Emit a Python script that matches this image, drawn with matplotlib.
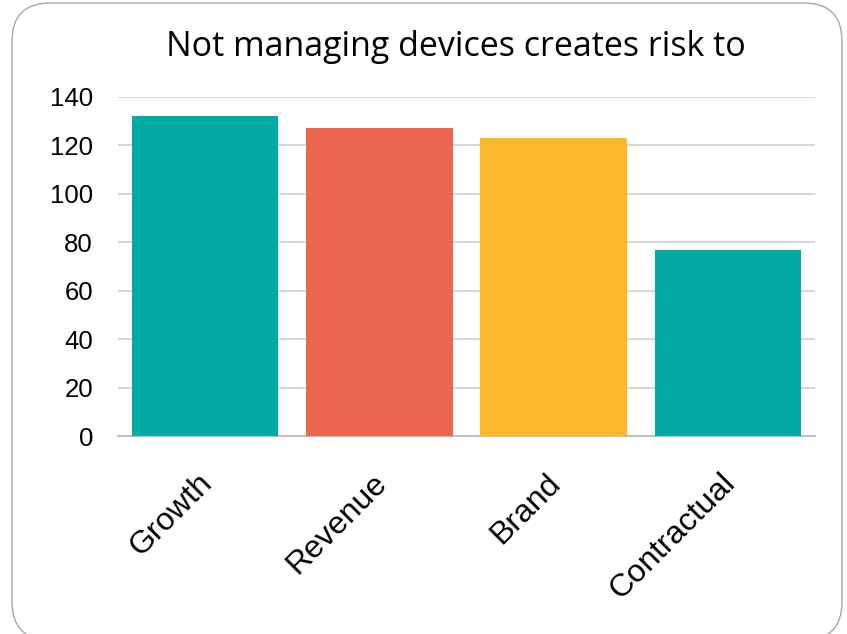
import matplotlib
matplotlib.use("Agg")
import matplotlib.pyplot as plt
import matplotlib.transforms as mtransforms
from matplotlib.patches import FancyBboxPatch

# date
categorii = ["Growth", "Revenue", "Brand", "Contractual"]
valori = [132, 127, 123, 77]
culori = ["#02aba4", "#ec654e", "#fdb827", "#02aba4"]
ticks_y = [0, 20, 40, 60, 80, 100, 120, 140]

fig = plt.figure(figsize=(8.47, 6.34), dpi=100)
ax = fig.add_axes([118 / 847, 1 - 436 / 634, 697 / 847, 339 / 634])

# chenarul rotunjit din jurul graficului
chenar = FancyBboxPatch((12 / 847, -6 / 634), 830 / 847, 637 / 634,
                        boxstyle="round,pad=0,rounding_size=0.045",
                        transform=fig.transFigure, facecolor="none",
                        edgecolor="#a6a6a6", linewidth=1.0, mutation_aspect=847 / 634)
fig.patches.append(chenar)

x = range(len(categorii))
ax.bar(x, valori, width=0.84, color=culori, zorder=3)

ax.set_xlim(-0.5, 3.5)
ax.set_ylim(0, 140)
ax.set_yticks(ticks_y)
ax.set_yticklabels([str(t) for t in ticks_y], fontsize=18.5, family="Liberation Sans")
ax.set_xticks(list(x))
ax.set_xticklabels(categorii, rotation=45, ha="right", rotation_mode="anchor",
                   fontsize=23, family="Liberation Sans")
ax.tick_params(axis="y", length=0, pad=18)
ax.tick_params(axis="x", length=0, pad=23)

# mutam putin etichetele de pe axa x spre stanga
deplasare = mtransforms.ScaledTranslation(-8 / 100, 0, fig.dpi_scale_trans)
for eticheta in ax.get_xticklabels():
    eticheta.set_transform(eticheta.get_transform() + deplasare)

ax.grid(axis="y", color="#d0d0d0", linewidth=1.2, zorder=0)
for s in ["top", "right", "left"]:
    ax.spines[s].set_visible(False)
ax.spines["bottom"].set_color("#c0c0c0")
ax.spines["bottom"].set_linewidth(1.5)

fig.text(0.538, 0.926, "Not managing devices creates risk to", ha="center", va="center",
         fontsize=24.5, family="Open Sans", color="black")

fig.savefig("out.png", dpi=100)
